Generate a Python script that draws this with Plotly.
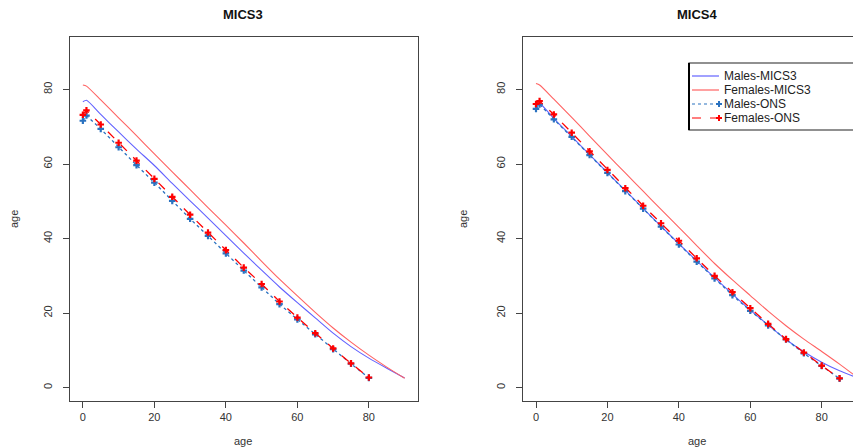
import plotly.graph_objects as go

# ---------------- data ----------------
curve_ages = [0, 1, 5, 10, 15, 20, 25, 30, 35, 40, 45, 50, 55, 60, 65, 70, 75, 80, 85, 90]

# MICS3 panel: life-table curves
mics3_males_curve = [76.7, 77.1, 73.3, 68.6, 64.0, 59.6, 54.8, 50.1, 45.5, 40.8, 36.1, 31.5,
                     27.0, 22.8, 18.7, 14.6, 11.0, 7.9, 5.2, 2.6]
mics3_females_curve = [81.2, 80.9, 77.2, 72.4, 67.6, 62.7, 57.9, 53.1, 48.3, 43.6, 38.8, 33.9,
                       29.1, 24.6, 20.2, 16.0, 12.2, 8.7, 5.5, 2.5]

# MICS4 panel: life-table curves
mics4_males_curve = [75.2, 76.2, 72.2, 67.4, 62.5, 57.7, 52.9, 48.1, 43.3, 38.6, 34.0, 29.5,
                     25.1, 20.8, 16.8, 12.9, 9.6, 6.8, 4.5, 2.6]
mics4_females_curve = [81.6, 81.2, 77.4, 72.5, 67.5, 62.5, 57.6, 52.7, 47.8, 43.0, 38.1, 33.3,
                       28.9, 24.7, 20.5, 16.6, 13.0, 9.7, 6.3, 2.7]

# ONS points
ons_ages_mics3 = [0, 1, 5, 10, 15, 20, 25, 30, 35, 40, 45, 50, 55, 60, 65, 70, 75, 80]
mics3_males_ons = [71.6, 73.0, 69.4, 64.5, 59.7, 55.0, 50.1, 45.3, 40.7, 36.0, 31.4, 26.9,
                   22.4, 18.3, 14.3, 10.3, 6.4, 2.6]
mics3_females_ons = [73.2, 74.4, 70.6, 65.7, 60.9, 56.0, 51.2, 46.4, 41.6, 36.9, 32.2, 27.8,
                     23.1, 18.8, 14.6, 10.5, 6.5, 2.7]

ons_ages_mics4 = [0, 1, 5, 10, 15, 20, 25, 30, 35, 40, 45, 50, 55, 60, 65, 70, 75, 80, 85]
mics4_males_ons = [74.8, 76.0, 72.0, 67.3, 62.4, 57.6, 52.7, 48.0, 43.2, 38.4, 33.8, 29.3,
                   24.8, 20.6, 16.7, 12.9, 9.2, 5.8, 2.4]
mics4_females_ons = [76.1, 76.9, 73.3, 68.4, 63.4, 58.4, 53.5, 48.8, 44.1, 39.4, 34.7, 30.0,
                     25.6, 21.3, 17.1, 13.0, 9.4, 5.9, 2.5]

y_ticks = [0, 20, 40, 60, 80]
x_ticks = [0, 20, 40, 60, 80]
panel_titles = ["MICS3", "MICS4"]
series_names = ["Males-MICS3", "Females-MICS3", "Males-ONS", "Females-ONS"]

# ---------------- styles ----------------
C_MALE_LINE = "#6262ff"
C_FEMALE_LINE = "#ff6262"
C_MALE_ONS = "#2a72c0"
C_FEMALE_ONS = "#ff0000"
FONT = "Liberation Sans, Arial, sans-serif"

# The page body has an 8px margin; lay out in window pixels minus that offset.
OFF = 8
W, H = 861 - OFF, 448 - OFF


def px(x):
    return (x - OFF) / W


def py(y):
    return 1 - (y - OFF) / H


fig = go.Figure()

panels = [
    ("x", "y", mics3_males_curve, mics3_females_curve, ons_ages_mics3, mics3_males_ons, mics3_females_ons),
    ("x2", "y2", mics4_males_curve, mics4_females_curve, ons_ages_mics4, mics4_males_ons, mics4_females_ons),
]

for xa, ya, mc, fc, oa, mo, fo in panels:
    fig.add_trace(go.Scatter(x=curve_ages, y=mc, mode="lines", name=series_names[0],
                             line=dict(color=C_MALE_LINE, width=1.1, shape="spline", smoothing=0.6),
                             xaxis=xa, yaxis=ya, showlegend=False))
    fig.add_trace(go.Scatter(x=curve_ages, y=fc, mode="lines", name=series_names[1],
                             line=dict(color=C_FEMALE_LINE, width=1.1, shape="spline", smoothing=0.6),
                             xaxis=xa, yaxis=ya, showlegend=False))
    fig.add_trace(go.Scatter(x=oa, y=mo, mode="lines+markers", name=series_names[2],
                             line=dict(color=C_MALE_ONS, width=1.3, dash="dot"),
                             marker=dict(symbol="cross", size=5.5, color=C_MALE_ONS),
                             xaxis=xa, yaxis=ya, showlegend=False))
    fig.add_trace(go.Scatter(x=oa, y=fo, mode="lines+markers", name=series_names[3],
                             line=dict(color=C_FEMALE_ONS, width=1.3, dash="dash"),
                             marker=dict(symbol="cross", size=5.5, color=C_FEMALE_ONS),
                             xaxis=xa, yaxis=ya, showlegend=False))

y_dom = [py(401), py(37.3)]

axis_common = dict(
    showgrid=False, zeroline=False, showline=True, linecolor="#444", linewidth=1.3,
    ticks="outside", ticklen=6, tickwidth=1, tickcolor="#444",
    tickfont=dict(family=FONT, size=11, color="#333"),
)

fig.update_layout(
    width=W, height=H,
    margin=dict(l=0, r=0, t=0, b=0),
    paper_bgcolor="white", plot_bgcolor="white",
    xaxis=dict(domain=[px(70), px(417.5)], range=[-3.6, 93.6], tickvals=x_ticks,
               mirror=True, anchor="y", **axis_common),
    yaxis=dict(domain=y_dom, range=[-3.6, 94.0], tickvals=y_ticks, tickangle=-90,
               mirror=True, anchor="x", ticklabelstandoff=6, **axis_common),
    xaxis2=dict(domain=[px(523), 1.0], range=[-3.64, 91.0], tickvals=x_ticks,
                mirror=True, anchor="y2", **axis_common),
    yaxis2=dict(domain=y_dom, range=[-3.6, 94.0], tickvals=y_ticks, tickangle=-90,
                mirror=False, anchor="x2", ticklabelstandoff=6, **axis_common),
    showlegend=False,
)

annotations = [
    dict(text="<b>%s</b>" % panel_titles[0], x=px(243), y=py(15)),
    dict(text="<b>%s</b>" % panel_titles[1], x=px(697), y=py(15)),
]
for a in annotations:
    a.update(xref="paper", yref="paper", showarrow=False, xanchor="center", yanchor="middle",
             font=dict(family=FONT, size=13, color="#111"))
axis_titles = [
    dict(text="age", x=px(243), y=py(441), textangle=0),
    dict(text="age", x=px(697), y=py(441), textangle=0),
    dict(text="age", x=px(14), y=py(219), textangle=-90),
    dict(text="age", x=px(463), y=py(219), textangle=-90),
]
for a in axis_titles:
    a.update(xref="paper", yref="paper", showarrow=False, xanchor="center", yanchor="middle",
             font=dict(family=FONT, size=11, color="#333"))

# ---------------- legend (drawn in paper space) ----------------
shapes = [
    dict(type="rect", xref="paper", yref="paper", x0=px(689), x1=px(859), y0=py(130), y1=py(63),
         line=dict(color="#222", width=1.2), fillcolor="white", layer="above"),
    dict(type="line", xref="paper", yref="paper", x0=px(689), x1=px(689), y0=py(130), y1=py(63),
         line=dict(color="#000", width=2), layer="above"),
]
legend_rows = [76, 90, 104, 118]
legend_colors = [C_MALE_LINE, C_FEMALE_LINE, C_MALE_ONS, C_FEMALE_ONS]
legend_dash = ["solid", "solid", "dot", "dash"]
legend_marker = [False, False, True, True]
legend_texts = []
for name, row, col, dash, mk in zip(series_names, legend_rows, legend_colors, legend_dash, legend_marker):
    shapes.append(dict(type="line", xref="paper", yref="paper", x0=px(692), x1=px(719),
                       y0=py(row), y1=py(row), line=dict(color=col, width=1.2, dash=dash), layer="above"))
    if mk:
        shapes.append(dict(type="line", xref="paper", yref="paper", x0=px(716), x1=px(722),
                           y0=py(row), y1=py(row), line=dict(color=col, width=2), layer="above"))
        shapes.append(dict(type="line", xref="paper", yref="paper", x0=px(719), x1=px(719),
                           y0=py(row - 3), y1=py(row + 3), line=dict(color=col, width=2), layer="above"))
    legend_texts.append(dict(text=name, x=px(723), y=py(row), xref="paper", yref="paper",
                             showarrow=False, xanchor="left", yanchor="middle",
                             borderpad=0,
                             font=dict(family=FONT, size=12, color="#222")))

fig.update_layout(annotations=annotations + axis_titles + legend_texts, shapes=shapes)

fig.write_html("out.html")
